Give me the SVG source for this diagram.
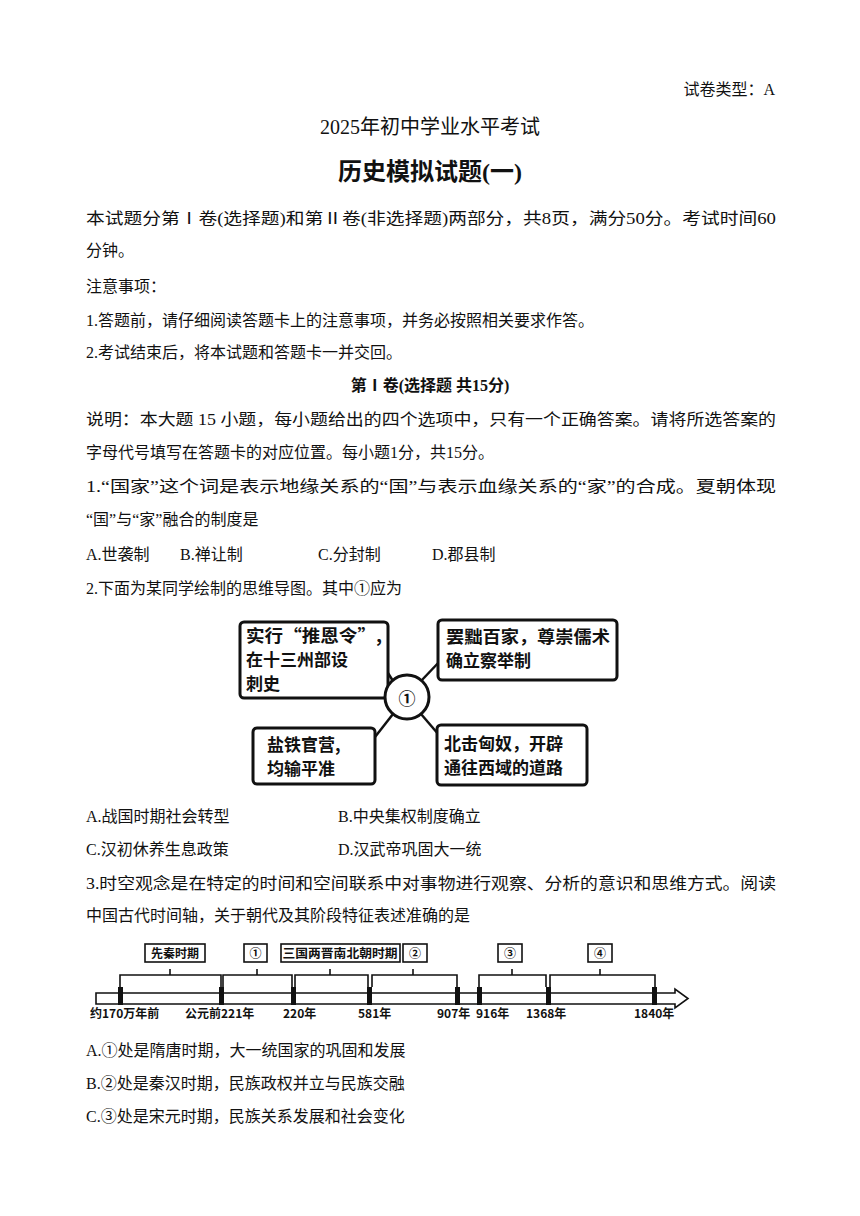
<svg xmlns="http://www.w3.org/2000/svg" width="860" height="1216" viewBox="0 0 860 1216">
<style>
text{font-family:"Liberation Serif","Noto Sans CJK SC",serif;fill:#111}
.b{font-size:16px}
.h{font-weight:bold}
.m{font-family:"Noto Sans CJK SC",sans-serif;font-weight:bold;font-size:17px}
.t{font-family:"Noto Sans CJK SC",sans-serif;font-weight:bold;font-size:12px}
.box{fill:#fff;stroke:#111;stroke-width:3}
.ln{stroke:#111;stroke-width:2.5;fill:none}
.tl{stroke:#111;stroke-width:1.6;fill:none}
</style>
<rect width="860" height="1216" fill="#fff"/>
<g id="text">
<text class="b" x="775" y="95" text-anchor="end">试卷类型：A</text>
<text x="430" y="134" font-size="20" text-anchor="middle">2025年初中学业水平考试</text>
<text x="430" y="180" font-size="24" class="h" text-anchor="middle">历史模拟试题(一)</text>
<text class="b" x="86" y="224" textLength="690" lengthAdjust="spacingAndGlyphs">本试题分第Ⅰ卷(选择题)和第Ⅱ卷(非选择题)两部分，共8页，满分50分。考试时间60</text>
<text class="b" x="86" y="256">分钟。</text>
<text class="b" x="86" y="292">注意事项：</text>
<text class="b" x="86" y="326">1.答题前，请仔细阅读答题卡上的注意事项，并务必按照相关要求作答。</text>
<text class="b" x="86" y="358">2.考试结束后，将本试题和答题卡一并交回。</text>
<text class="b h" x="430" y="391" text-anchor="middle">第Ⅰ卷(选择题 共15分)</text>
<text class="b" x="86" y="425" textLength="690" lengthAdjust="spacingAndGlyphs">说明：本大题 15 小题，每小题给出的四个选项中，只有一个正确答案。请将所选答案的</text>
<text class="b" x="86" y="458">字母代号填写在答题卡的对应位置。每小题1分，共15分。</text>
<text class="b" x="86" y="492" textLength="690" lengthAdjust="spacingAndGlyphs">1.“国家”这个词是表示地缘关系的“国”与表示血缘关系的“家”的合成。夏朝体现</text>
<text class="b" x="86" y="525">“国”与“家”融合的制度是</text>
<text class="b" x="86" y="560">A.世袭制</text>
<text class="b" x="180" y="560">B.禅让制</text>
<text class="b" x="318" y="560">C.分封制</text>
<text class="b" x="432" y="560">D.郡县制</text>
<text class="b" x="86" y="594">2.下面为某同学绘制的思维导图。其中①应为</text>
<text class="b" x="86" y="822">A.战国时期社会转型</text>
<text class="b" x="338" y="822">B.中央集权制度确立</text>
<text class="b" x="86" y="855">C.汉初休养生息政策</text>
<text class="b" x="338" y="855">D.汉武帝巩固大一统</text>
<text class="b" x="86" y="889" textLength="690" lengthAdjust="spacingAndGlyphs">3.时空观念是在特定的时间和空间联系中对事物进行观察、分析的意识和思维方式。阅读</text>
<text class="b" x="86" y="921">中国古代时间轴，关于朝代及其阶段特征表述准确的是</text>
<text class="b" x="86" y="1056">A.①处是隋唐时期，大一统国家的巩固和发展</text>
<text class="b" x="86" y="1089">B.②处是秦汉时期，民族政权并立与民族交融</text>
<text class="b" x="86" y="1122">C.③处是宋元时期，民族关系发展和社会变化</text>
</g>
<g id="connectors">
<line class="ln" x1="376" y1="654" x2="393" y2="681"/>
<line class="ln" x1="441" y1="660" x2="421" y2="681"/>
<line class="ln" x1="375" y1="737" x2="393" y2="714"/>
<line class="ln" x1="439" y1="735" x2="421" y2="714"/>
</g>
<g id="n1"><rect class="box" x="240" y="622" width="148" height="76" rx="4"/>
<text class="m" x="246" y="642" textLength="136" lengthAdjust="spacingAndGlyphs">实行“推恩令”,</text><text class="m" x="246" y="666">在十三州部设</text><text class="m" x="246" y="690">刺史</text></g>
<g id="n2"><rect class="box" x="438" y="620" width="179" height="60" rx="4"/>
<text class="m" x="446" y="643" textLength="164" lengthAdjust="spacingAndGlyphs">罢黜百家，尊崇儒术</text><text class="m" x="446" y="667">确立察举制</text></g>
<g id="c"><circle class="box" cx="407" cy="697" r="22"/><text class="m" x="407" y="705" font-size="24" text-anchor="middle">①</text></g>
<g id="n3"><rect class="box" x="253" y="728" width="122" height="56" rx="4"/>
<text class="m" x="267" y="751">盐铁官营,</text><text class="m" x="267" y="775">均输平准</text></g>
<g id="n4"><rect class="box" x="437" y="725" width="150" height="60" rx="4"/>
<text class="m" x="444" y="750">北击匈奴，开辟</text><text class="m" x="444" y="774">通往西域的道路</text></g>
<g id="timeline">
<path class="tl" d="M96 993 H675 V989 L688 998.5 L675 1008 V1004 H96 Z"/>
<g fill="#111"><rect x="118" y="987" width="5" height="18"/><rect x="219" y="987" width="5" height="18"/><rect x="291" y="987" width="5" height="18"/><rect x="367" y="987" width="5" height="18"/><rect x="455" y="987" width="5" height="18"/><rect x="477" y="987" width="5" height="18"/><rect x="546" y="987" width="5" height="18"/><rect x="652" y="987" width="5" height="18"/></g>
<path class="tl" d="M120 987 V975 H221 V987 M170 975 V969 M223 987 V975 H292 V987 M257 975 V969 M295 987 V975 H368 V987 M330 975 V969 M372 987 V975 H457 V987 M413 975 V969 M479 987 V975 H546 V987 M512 975 V969 M550 987 V975 H655 V987 M600 975 V969"/>
<g class="tl"><rect x="145" y="944" width="60" height="18"/><rect x="244" y="944" width="23" height="18"/><rect x="281" y="944" width="119" height="18"/><rect x="403" y="944" width="24" height="18"/><rect x="498" y="944" width="24" height="18"/><rect x="588" y="944" width="24" height="18"/></g>
<text class="t" x="175" y="958" text-anchor="middle">先秦时期</text>
<text class="t" x="255.5" y="958" text-anchor="middle">①</text>
<text class="t" x="340" y="958" text-anchor="middle" textLength="115" lengthAdjust="spacingAndGlyphs">三国两晋南北朝时期</text>
<text class="t" x="415" y="958" text-anchor="middle">②</text>
<text class="t" x="510" y="958" text-anchor="middle">③</text>
<text class="t" x="600" y="958" text-anchor="middle">④</text>
<text class="t" x="90" y="1018">约170万年前</text>
<text class="t" x="185" y="1018">公元前221年</text>
<text class="t" x="283" y="1018">220年</text>
<text class="t" x="358" y="1018">581年</text>
<text class="t" x="437" y="1018">907年</text>
<text class="t" x="476" y="1018">916年</text>
<text class="t" x="526" y="1018">1368年</text>
<text class="t" x="634" y="1018">1840年</text>
</g>
</svg>
